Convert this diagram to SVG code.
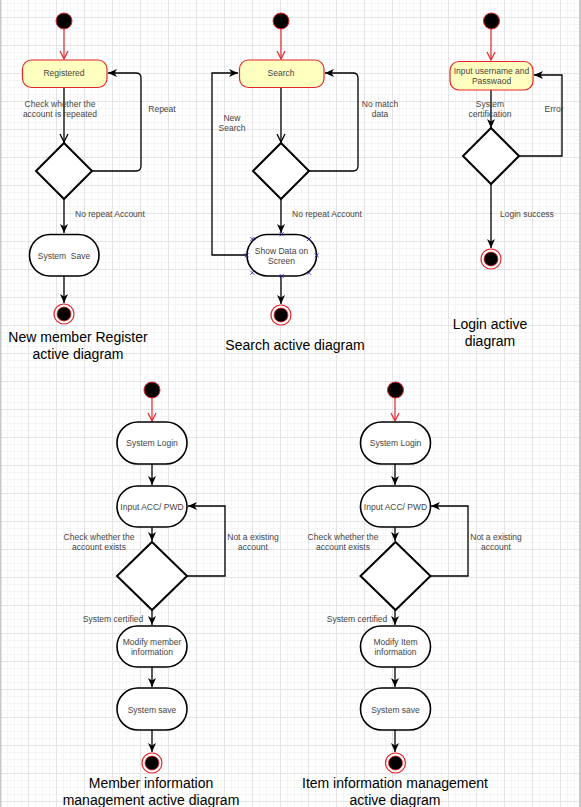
<svg xmlns="http://www.w3.org/2000/svg" width="581" height="807" viewBox="0 0 581 807">
<defs>
<pattern id="grid" patternUnits="userSpaceOnUse" x="0" y="17" width="28" height="28">
<rect width="28" height="28" fill="#ffffff"/>
<path d="M7.5,0V28M14.5,0V28M21.5,0V28M0,7.5H28M0,14.5H28M0,21.5H28" stroke="#f5f5f5" stroke-width="1"/>
<path d="M0.5,0V28M0,0.5H28" stroke="#e4e4e4" stroke-width="1"/>
</pattern>
<marker id="ab" markerUnits="userSpaceOnUse" markerWidth="10" markerHeight="10" viewBox="0 0 10 10" refX="9" refY="5" orient="auto">
<path d="M0,1 L9,5 L0,9 L2.5,5 z" fill="#000"/>
</marker>
<marker id="ob" markerUnits="userSpaceOnUse" markerWidth="10" markerHeight="10" viewBox="0 0 10 10" refX="9" refY="5" orient="auto">
<path d="M1,1 L9,5 L1,9" fill="none" stroke="#000" stroke-width="1.3"/>
</marker>
<marker id="or" markerUnits="userSpaceOnUse" markerWidth="10" markerHeight="10" viewBox="0 0 10 10" refX="9" refY="5" orient="auto">
<path d="M1,1 L9,5 L1,9" fill="none" stroke="#e5262b" stroke-width="1.2"/>
</marker>
</defs>
<style>
.lbl{font-family:"Liberation Sans",Arial,sans-serif;font-size:8.5px;fill:#444;text-anchor:middle}
.lbls{font-family:"Liberation Sans",Arial,sans-serif;font-size:8.5px;fill:#444;text-anchor:start}
.ttl{font-family:"Liberation Sans",Arial,sans-serif;font-size:14px;fill:#000;text-anchor:middle}
.start{fill:#000;stroke:#e5262b;stroke-width:1}
.endo{fill:#fff;stroke:#e5262b;stroke-width:1.2}
.endi{fill:#000;stroke:#e5262b;stroke-width:0.8}
.act{fill:#fff;stroke:#000;stroke-width:1.6}
.hl{fill:#ffffc0;stroke:#e5262b;stroke-width:1.2}
.dia{fill:#fff;stroke:#000;stroke-width:2}
.e{fill:none;stroke:#000;stroke-width:1.3}
.er{fill:none;stroke:#e5262b;stroke-width:1.2}
.sel{fill:none;stroke:#1a1aa0;stroke-width:0.8}
</style>
<rect width="581" height="807" fill="url(#grid)"/>
<rect x="0" y="0" width="1.5" height="807" fill="#c8c8c8"/>
<rect x="579" y="0" width="2" height="807" fill="#c8c8c8"/>

<g id="connectors">
<path class="er" d="M64,29 V59" marker-end="url(#or)"/>
<path class="e" d="M64,88 V142" marker-end="url(#ob)"/>
<path class="e" d="M92,171 H136 Q141,171 141,166 V78 Q141,73 136,73 H108" marker-end="url(#ab)"/>
<path class="e" d="M64,199 V233" marker-end="url(#ab)"/>
<path class="e" d="M64,276 V303" marker-end="url(#ab)"/>
<path class="er" d="M281,29 V59" marker-end="url(#or)"/>
<path class="e" d="M281,88 V142" marker-end="url(#ob)"/>
<path class="e" d="M309,171 H353 Q358,171 358,166 V78 Q358,73 353,73 H325" marker-end="url(#ab)"/>
<path class="e" d="M281,199 V233" marker-end="url(#ab)"/>
<path class="e" d="M247,255 H212 V73 H238" marker-end="url(#ab)"/>
<path class="e" d="M281,276 V304" marker-end="url(#ab)"/>
<path class="er" d="M491,29 V60" marker-end="url(#or)"/>
<path class="e" d="M491,90 V128" marker-end="url(#ab)"/>
<path class="e" d="M519,156 H562 V75 H534" marker-end="url(#ab)"/>
<path class="e" d="M491,184 V248" marker-end="url(#ab)"/>
<path class="er" d="M152,398 V421" marker-end="url(#or)"/>
<path class="e" d="M152,464 V485" marker-end="url(#ab)"/>
<path class="e" d="M152,527 V541" marker-end="url(#ab)"/>
<path class="e" d="M187,576 H225 V506 H188" marker-end="url(#ab)"/>
<path class="e" d="M152,610 V625" marker-end="url(#ab)"/>
<path class="e" d="M152,667 V687" marker-end="url(#ab)"/>
<path class="e" d="M152,730 V752" marker-end="url(#ab)"/>
<path class="er" d="M395,398 V421" marker-end="url(#or)"/>
<path class="e" d="M395,464 V485" marker-end="url(#ab)"/>
<path class="e" d="M395,527 V541" marker-end="url(#ab)"/>
<path class="e" d="M430,576 H468 V506 H431" marker-end="url(#ab)"/>
<path class="e" d="M395,610 V625" marker-end="url(#ab)"/>
<path class="e" d="M395,667 V687" marker-end="url(#ab)"/>
<path class="e" d="M395,730 V752" marker-end="url(#ab)"/>
</g>

<g id="labels">
<text class="lbl" x="60" y="107">Check whether the</text>
<text class="lbl" x="60" y="117">account is repeated</text>
<text class="lbl" x="162" y="112">Repeat</text>
<text class="lbls" x="75" y="217">No repeat Account</text>
<text class="lbl" x="232" y="121">New</text>
<text class="lbl" x="232" y="131">Search</text>
<text class="lbl" x="380" y="107">No match</text>
<text class="lbl" x="380" y="117">data</text>
<text class="lbls" x="292" y="217">No repeat Account</text>
<text class="lbl" x="490" y="107">System</text>
<text class="lbl" x="490" y="117">certification</text>
<text class="lbl" x="554" y="112">Error</text>
<text class="lbls" x="500" y="217">Login success</text>
<text class="lbl" x="99" y="540">Check whether the</text>
<text class="lbl" x="99" y="550">account exists</text>
<text class="lbl" x="253" y="540">Not a existing</text>
<text class="lbl" x="253" y="550">account</text>
<text class="lbl" x="113" y="622">System certified</text>
<text class="lbl" x="343" y="540">Check whether the</text>
<text class="lbl" x="343" y="550">account exists</text>
<text class="lbl" x="496" y="540">Not a existing</text>
<text class="lbl" x="496" y="550">account</text>
<text class="lbl" x="357" y="622">System certified</text>
</g>

<g id="d1-start"><circle class="start" cx="64" cy="21" r="8"/></g>
<g id="d1-registered"><rect class="hl" x="22.5" y="60" width="84.5" height="27.5" rx="9"/><text class="lbl" x="64" y="76">Registered</text></g>
<g id="d1-decision"><path class="dia" d="M64,143 L92,171 L64,199 L36,171 Z"/></g>
<g id="d1-save"><rect class="act" x="29.5" y="234.5" width="69.5" height="41.5" rx="20.5"/><text class="lbl" x="64" y="259" xml:space="preserve">System  Save</text></g>
<g id="d1-end"><circle class="endo" cx="64" cy="314" r="10"/><circle class="endi" cx="64" cy="314" r="7"/></g>
<g id="d1-title"><text class="ttl" x="78" y="342">New member Register</text><text class="ttl" x="78" y="359">active diagram</text></g>

<g id="d2-start"><circle class="start" cx="281" cy="21" r="8"/></g>
<g id="d2-search"><rect class="hl" x="239.5" y="60" width="84.5" height="27.5" rx="9"/><text class="lbl" x="281" y="76">Search</text></g>
<g id="d2-decision"><path class="dia" d="M281,143 L309,171 L281,199 L253,171 Z"/></g>
<g id="d2-show"><rect class="act" x="247" y="234.5" width="69.5" height="41.5" rx="20.5"/><text class="lbl" x="281.5" y="254">Show Data on</text><text class="lbl" x="281.5" y="264">Screen</text>
<path class="sel" d="M250.3,237 l4,4 m0,-4 l-4,4 M307,237 l4,4 m0,-4 l-4,4 M244.7,253.3 l4,4 m0,-4 l-4,4 M314.7,253.3 l4,4 m0,-4 l-4,4 M250.3,270.7 l4,4 m0,-4 l-4,4 M307,270.7 l4,4 m0,-4 l-4,4 M279.7,232.3 l4,4 m0,-4 l-4,4 M279.7,274 l4,4 m0,-4 l-4,4"/></g>
<g id="d2-end"><circle class="endo" cx="281" cy="315" r="10"/><circle class="endi" cx="281" cy="315" r="7"/></g>
<g id="d2-title"><text class="ttl" x="295" y="350">Search active diagram</text></g>

<g id="d3-start"><circle class="start" cx="491.5" cy="21" r="8"/></g>
<g id="d3-input"><rect class="hl" x="450" y="61.5" width="83" height="28.5" rx="9"/><text class="lbl" x="491.5" y="74">Input username and</text><text class="lbl" x="491.5" y="84">Passwaod</text></g>
<g id="d3-decision"><path class="dia" d="M491,128 L519,156 L491,184 L463,156 Z"/></g>
<g id="d3-end"><circle class="endo" cx="491" cy="259" r="10"/><circle class="endi" cx="491" cy="259" r="7"/></g>
<g id="d3-title"><text class="ttl" x="490" y="329">Login active</text><text class="ttl" x="490" y="346">diagram</text></g>

<g id="d4-start"><circle class="start" cx="152" cy="390" r="8"/></g>
<g id="d4-login"><rect class="act" x="117" y="422" width="70" height="42" rx="21"/><text class="lbl" x="152" y="446">System Login</text></g>
<g id="d4-input"><rect class="act" x="117" y="486" width="70" height="41" rx="20.5"/><text class="lbl" x="152" y="510">Input ACC/ PWD</text></g>
<g id="d4-decision"><path class="dia" d="M152,542 L187,576 L152,610 L117,576 Z" stroke-width="1.6"/></g>
<g id="d4-modify"><rect class="act" x="117" y="626" width="70" height="41" rx="20.5"/><text class="lbl" x="152" y="645">Modify member</text><text class="lbl" x="152" y="655">information</text></g>
<g id="d4-save"><rect class="act" x="117" y="688" width="70" height="42" rx="21"/><text class="lbl" x="152" y="713">System save</text></g>
<g id="d4-end"><circle class="endo" cx="152" cy="763" r="10"/><circle class="endi" cx="152" cy="763" r="7"/></g>
<g id="d4-title"><text class="ttl" x="151" y="788">Member information</text><text class="ttl" x="151" y="805">management active diagram</text></g>

<g id="d5-start"><circle class="start" cx="395.5" cy="390" r="8"/></g>
<g id="d5-login"><rect class="act" x="360.5" y="422" width="70" height="42" rx="21"/><text class="lbl" x="395.5" y="446">System Login</text></g>
<g id="d5-input"><rect class="act" x="360.5" y="486" width="70" height="41" rx="20.5"/><text class="lbl" x="395.5" y="510">Input ACC/ PWD</text></g>
<g id="d5-decision"><path class="dia" d="M395.5,542 L430.5,576 L395.5,610 L360.5,576 Z" stroke-width="1.6"/></g>
<g id="d5-modify"><rect class="act" x="360.5" y="626" width="70" height="41" rx="20.5"/><text class="lbl" x="395.5" y="645">Modify Item</text><text class="lbl" x="395.5" y="655">information</text></g>
<g id="d5-save"><rect class="act" x="360.5" y="688" width="70" height="42" rx="21"/><text class="lbl" x="395.5" y="713">System save</text></g>
<g id="d5-end"><circle class="endo" cx="395.5" cy="763" r="10"/><circle class="endi" cx="395.5" cy="763" r="7"/></g>
<g id="d5-title"><text class="ttl" x="395" y="788">Item information management</text><text class="ttl" x="395" y="805">active diagram</text></g>
</svg>
